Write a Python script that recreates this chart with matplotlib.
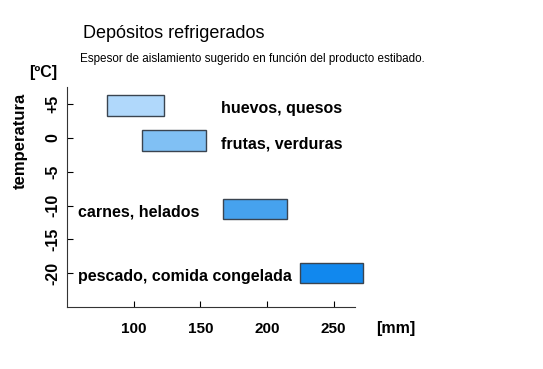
import matplotlib.pyplot as plt

plt.rcParams['font.family'] = ['Liberation Sans', 'DejaVu Sans']

# Data
productos = ['huevos, quesos', 'frutas, verduras', 'carnes, helados', 'pescado, comida congelada']
espesor_min = [80, 106, 167, 225]       # mm
espesor_max = [123, 154, 215, 272]      # mm
temp_baja = [3.3, -1.9, -12.0, -21.5]   # ºC
temp_alta = [6.3, 1.1, -9.0, -18.5]     # ºC
y_ticks = [5, 0, -5, -10, -15, -20]
y_labels = ['+5', '0', '-5', '-10', '-15', '-20']
x_ticks = [100, 150, 200, 250]

colores = ['#b0d8fb', '#80c0f4', '#46a2ee', '#1188ee']
# where each label sits relative to its bar
lado = ['right', 'right', 'left', 'left']

fig = plt.figure(figsize=(5.43, 3.69), dpi=100)
ax = fig.add_axes([0.1234, 0.168, 0.5304, 0.596])

for i, nombre in enumerate(productos):
    ancho = espesor_max[i] - espesor_min[i]
    alto = temp_alta[i] - temp_baja[i]
    ax.barh(temp_baja[i], ancho, height=alto, left=espesor_min[i], align='edge',
            color=colores[i], edgecolor='#3a4450', linewidth=1.0, clip_on=False)
    yc = (temp_baja[i] + temp_alta[i]) / 2
    x0 = 165.5 if lado[i] == 'right' else 58
    ax.text(x0, yc - 0.5, nombre, fontsize=11.5, fontweight='bold', va='center', ha='left')

ax.set_xlim(50, 266)
ax.set_ylim(-25, 7.5)
ax.set_xticks(x_ticks)
ax.set_xticklabels([str(v) for v in x_ticks], fontsize=11, fontweight='bold')
ax.set_yticks(y_ticks)
ax.set_yticklabels(y_labels, fontsize=11.5, fontweight='bold', rotation=90, va='center')
ax.tick_params(axis='x', direction='in', length=4, pad=11)
ax.tick_params(axis='y', direction='in', length=4, pad=5)
for s in ['top', 'right']:
    ax.spines[s].set_visible(False)
for s in ['left', 'bottom']:
    ax.spines[s].set_linewidth(0.8)
    ax.spines[s].set_color('#333333')

fig.text(83 / 543, 1 - 33 / 369, 'Depósitos refrigerados', fontsize=13, va='center', ha='left')
fig.text(80 / 543, 1 - 59 / 369, 'Espesor de aislamiento sugerido en función del producto estibado.',
         fontsize=8.35, va='center', ha='left')
fig.text(29 / 543, 1 - 72 / 369, '[ºC]', fontsize=11.5, fontweight='bold', va='center', ha='left')
fig.text(20 / 543, 1 - 141 / 369, 'temperatura', fontsize=12, fontweight='bold', va='center',
         ha='center', rotation=90)
fig.text(376 / 543, 1 - 328 / 369, '[mm]', fontsize=11.5, fontweight='bold', va='center', ha='left')

fig.savefig('out.png', dpi=100)
